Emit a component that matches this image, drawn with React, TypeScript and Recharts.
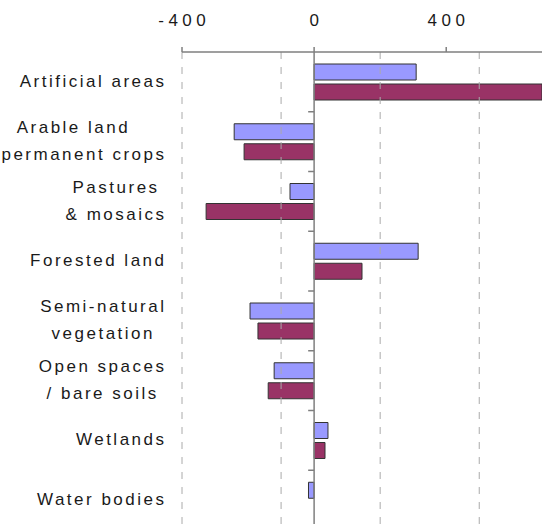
import React from 'react'
import { BarChart, Bar, XAxis, YAxis, ReferenceLine } from 'recharts'

// categories as printed, "\n" marks the line break used in the label
const categories = [
  'Artificial areas',
  'Arable land\n& permanent crops',
  'Pastures\n& mosaics',
  'Forested land',
  'Semi-natural\nvegetation',
  'Open spaces\n/ bare soils',
  'Wetlands',
  'Water bodies',
]
const seriesA = [309, -242, -73, 315, -194, -121, 42, -17]
const seriesB = [690, -212, -327, 145, -170, -139, 33, 0]

const xTicks = [-400, 0, 400]
const gridValues = [-400, -100, 200, 500]

const data = categories.map((name, i) => ({ name, a: seriesA[i], b: seriesB[i] }))

const FONT = '"Liberation Sans", Arial, sans-serif'
const FONT_SIZE = 17
const LABEL_LS = 2.5
const TICK_LS = 4.5

let ctx: CanvasRenderingContext2D | null = null
function measure(text: string, ls: number) {
  if (!ctx) ctx = document.createElement('canvas').getContext('2d')
  if (!ctx) return text.length * 10
  ctx.font = `${FONT_SIZE}px ${FONT}`
  return ctx.measureText(text).width + ls * (text.length - 1)
}

function CategoryTick({ x, y, payload }: any) {
  const lines = String(payload.value).split('\n')
  const widths = lines.map((l) => measure(l, LABEL_LS))
  const blockW = Math.max(...widths)
  const mid = x - blockW / 2
  const lh = 27
  const top = y - ((lines.length - 1) * lh) / 2
  return (
    <g>
      {lines.map((l, i) => (
        <text key={i} x={mid - widths[i] / 2} y={top + i * lh + 5}
          fontFamily={FONT} fontSize={FONT_SIZE} letterSpacing={LABEL_LS} fill="#1a1a1a">
          {l}
        </text>
      ))}
    </g>
  )
}

function ValueTick({ x, y, payload }: any) {
  const t = String(payload.value)
  const w = measure(t, TICK_LS)
  return (
    <text x={x - w / 2} y={y} fontFamily={FONT} fontSize={FONT_SIZE}
      letterSpacing={TICK_LS} fill="#1a1a1a">
      {t}
    </text>
  )
}

export default function App() {
  return (
    <div style={{ position: 'fixed', top: 0, left: 0, width: 542, height: 524, overflow: 'hidden', background: '#fff' }}>
      <BarChart width={542} height={530} data={data} layout="vertical"
        margin={{ top: 0, right: 0, left: 0, bottom: 0 }} barSize={16} barGap={4}>
        <XAxis type="number" orientation="top" domain={[-400, 690]} ticks={xTicks}
          allowDataOverflow height={52} tickSize={5} tickMargin={21}
          axisLine={{ stroke: '#7f7f7f', strokeWidth: 1.5 }} tickLine={{ stroke: '#7f7f7f', strokeWidth: 1.5 }}
          tick={<ValueTick />} />
        <YAxis type="category" dataKey="name" width={182} axisLine={false} tickLine={false}
          tickSize={0} tickMargin={18} interval={0} tick={<CategoryTick />} />
        {gridValues.map((v) => (
          <ReferenceLine key={v} x={v} stroke="#aaaaaa" strokeDasharray="7 8" />
        ))}
        <Bar dataKey="a" fill="#9999FF" stroke="#333" strokeWidth={1} isAnimationActive={false} />
        <Bar dataKey="b" fill="#993366" stroke="#333" strokeWidth={1} isAnimationActive={false} />
        <ReferenceLine x={0} stroke="#7f7f7f" strokeWidth={1.5} />
        {categories.slice(1).map((c) => (
          <ReferenceLine key={c} position="start" stroke="#7f7f7f" strokeWidth={1.5}
            segment={[{ x: -18, y: c }, { x: 0, y: c }]} />
        ))}
      </BarChart>
    </div>
  )
}
